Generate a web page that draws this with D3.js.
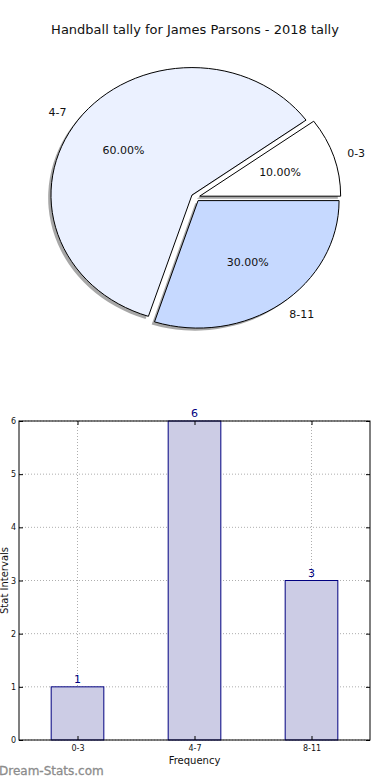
<!DOCTYPE html>
<html>
<head>
<meta charset="utf-8">
<script src="https://cdn.jsdelivr.net/npm/d3@7"></script>
<style>
  body { margin: 0; background: #fff; }
  svg { display: block; font-family: "DejaVu Sans", sans-serif; }
</style>
</head>
<body>
<div id="chart"></div>
<script>
// chart data
var categories = ["0-3", "4-7", "8-11"];
var counts = [1, 6, 3];
var pieColors = ["#ffffff", "#ebf1ff", "#c6d9ff"];
var yTicks = [0, 1, 2, 3, 4, 5, 6];

var width = 390, height = 780;

var svg = d3.select("#chart").append("svg")
  .attr("width", width)
  .attr("height", height);

svg.append("text")
  .attr("x", 195).attr("y", 34)
  .attr("text-anchor", "middle")
  .style("font-size", "13px")
  .attr("fill", "#111")
  .text("Handball tally for James Parsons - 2018 tally");

// ---- pie (matplotlib style: starts at 3 o'clock, counter clockwise) ----
var cx = 195.5, cy = 197.4, rx = 141, ry = 127.5, explode = 0.031;

var pie = d3.pie().sort(null)
  .startAngle(Math.PI / 2)
  .endAngle(Math.PI / 2 - 2 * Math.PI);
var arcs = pie(counts);
var unitArc = d3.arc().innerRadius(0).outerRadius(1);
var total = d3.sum(counts);

// mid angle in math convention (radians, ccw from +x)
function midTheta(a) {
  var m = (a.startAngle + a.endAngle) / 2;
  return Math.PI / 2 - m;
}
function offset(a) {
  var t = midTheta(a);
  return [cx + explode * rx * Math.cos(t), cy - explode * ry * Math.sin(t)];
}

var pieG = svg.append("g");

// shadows first, underneath all wedges
pieG.selectAll("path.shadow")
  .data(arcs)
  .enter().append("path")
    .attr("class", "shadow")
    .attr("d", unitArc)
    .attr("transform", function(d) {
      var o = offset(d);
      return "translate(" + (o[0] - 0.02 * rx) + "," + (o[1] + 0.02 * ry) + ") scale(" + rx + "," + ry + ")";
    })
    .attr("fill", "#8a8a8a")
    .attr("opacity", 0.75);

pieG.selectAll("path.wedge")
  .data(arcs)
  .enter().append("path")
    .attr("class", "wedge")
    .attr("d", unitArc)
    .attr("transform", function(d) {
      var o = offset(d);
      return "translate(" + o[0] + "," + o[1] + ") scale(" + rx + "," + ry + ")";
    })
    .attr("fill", function(d, i) { return pieColors[i]; })
    .attr("stroke", "#000")
    .attr("stroke-width", 1)
    .attr("vector-effect", "non-scaling-stroke")
    .attr("stroke-linejoin", "miter");

// outer labels at 1.1 r, percent labels at 0.6 r
pieG.selectAll("text.lab")
  .data(arcs)
  .enter().append("text")
    .attr("class", "lab")
    .each(function(d, i) {
      var t = midTheta(d), o = offset(d);
      var x = o[0] + 1.1 * rx * Math.cos(t);
      var y = o[1] - 1.1 * ry * Math.sin(t);
      d3.select(this)
        .attr("x", x).attr("y", y)
        .attr("dy", "0.35em")
        .attr("text-anchor", Math.cos(t) > 0 ? "start" : "end")
        .text(categories[i]);
    })
    .style("font-size", "11px")
    .attr("fill", "#111");

pieG.selectAll("text.pct")
  .data(arcs)
  .enter().append("text")
    .attr("class", "pct")
    .each(function(d) {
      var t = midTheta(d), o = offset(d);
      d3.select(this)
        .attr("x", o[0] + 0.6 * rx * Math.cos(t))
        .attr("y", o[1] - 0.6 * ry * Math.sin(t))
        .attr("dy", "0.35em")
        .attr("text-anchor", "middle")
        .text((d.value / total * 100).toFixed(2) + "%");
    })
    .style("font-size", "11px")
    .attr("fill", "#111");

// ---- bar chart ----
var plotLeft = 19, plotRight = 370, plotTop = 421, plotBottom = 740;

var x = d3.scaleLinear().domain([-0.5, 2.5]).range([plotLeft, plotRight]);
var y = d3.scaleLinear().domain([0, 6]).range([plotBottom, plotTop]);
var barW = 0.45;

var bar = svg.append("g");

// grid
bar.selectAll("line.hgrid")
  .data(yTicks)
  .enter().append("line")
    .attr("x1", plotLeft).attr("x2", plotRight)
    .attr("y1", function(d) { return y(d); })
    .attr("y2", function(d) { return y(d); })
    .attr("stroke", "#999")
    .attr("stroke-width", 0.8)
    .attr("stroke-dasharray", "1,2");

bar.selectAll("line.vgrid")
  .data(categories)
  .enter().append("line")
    .attr("x1", function(d, i) { return x(i); })
    .attr("x2", function(d, i) { return x(i); })
    .attr("y1", plotTop).attr("y2", plotBottom)
    .attr("stroke", "#999")
    .attr("stroke-width", 0.8)
    .attr("stroke-dasharray", "1,2");

bar.selectAll("rect")
  .data(counts)
  .enter().append("rect")
    .attr("x", function(d, i) { return x(i - barW / 2); })
    .attr("width", x(barW) - x(0))
    .attr("y", function(d) { return y(d); })
    .attr("height", function(d) { return plotBottom - y(d); })
    .attr("fill", "#ccccE5")
    .attr("stroke", "#000080")
    .attr("stroke-width", 1);

bar.selectAll("text.val")
  .data(counts)
  .enter().append("text")
    .attr("x", function(d, i) { return x(i); })
    .attr("y", function(d) { return y(d) - 4; })
    .attr("text-anchor", "middle")
    .style("font-size", "11px")
    .attr("fill", "#000080")
    .text(function(d) { return d; });

// frame
bar.append("rect")
  .attr("x", plotLeft).attr("y", plotTop)
  .attr("width", plotRight - plotLeft).attr("height", plotBottom - plotTop)
  .attr("fill", "none")
  .attr("stroke", "#000")
  .attr("stroke-width", 1);

// axes with inward ticks
var yAxisL = d3.axisLeft(y).tickValues(yTicks).tickSize(-4).tickPadding(3).tickFormat(d3.format("d"));
var yAxisR = d3.axisRight(y).tickValues(yTicks).tickSize(-4).tickFormat("");
var xAxisB = d3.axisBottom(x).tickValues([0, 1, 2]).tickSize(-4).tickPadding(5)
  .tickFormat(function(d) { return categories[d]; });
var xAxisT = d3.axisTop(x).tickValues([0, 1, 2]).tickSize(-4).tickFormat("");

function styleAxis(g) {
  g.select(".domain").remove();
  g.selectAll("text").style("font-size", "8px").attr("fill", "#111").style("font-family", "DejaVu Sans, sans-serif");
  g.selectAll("line").attr("stroke", "#000");
}

bar.append("g").attr("transform", "translate(" + plotLeft + ",0)").call(yAxisL).call(styleAxis);
bar.append("g").attr("transform", "translate(" + plotRight + ",0)").call(yAxisR).call(styleAxis);
bar.append("g").attr("transform", "translate(0," + plotBottom + ")").call(xAxisB).call(styleAxis);
bar.append("g").attr("transform", "translate(0," + plotTop + ")").call(xAxisT).call(styleAxis);

svg.append("text")
  .attr("x", (plotLeft + plotRight) / 2).attr("y", 764)
  .attr("text-anchor", "middle")
  .style("font-size", "10px")
  .attr("fill", "#111")
  .text("Frequency");

svg.append("text")
  .attr("transform", "translate(8," + ((plotTop + plotBottom) / 2) + ") rotate(-90)")
  .attr("text-anchor", "middle")
  .style("font-size", "10px")
  .attr("fill", "#111")
  .text("Stat Intervals");

// watermark
svg.append("text")
  .attr("x", -1).attr("y", 775)
  .style("font-size", "12px")
  .attr("fill", "#8c8c8c")
  .style("stroke", "#8c8c8c")
  .style("stroke-width", 0.3)
  .text("Dream-Stats.com");
</script>
</body>
</html>
